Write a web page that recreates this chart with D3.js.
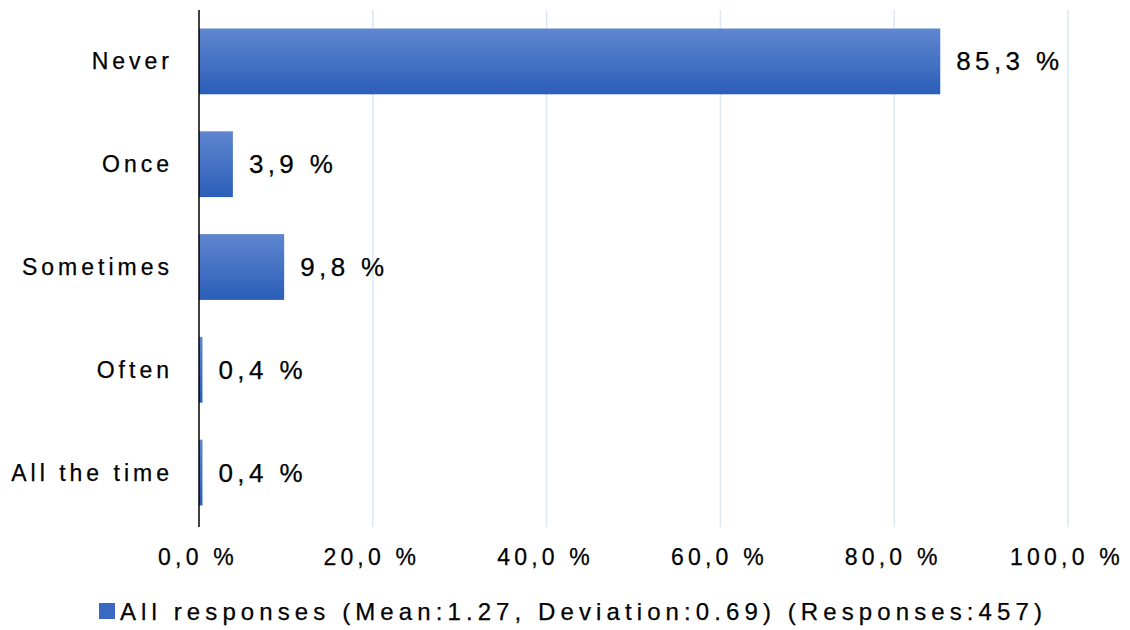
<!DOCTYPE html>
<html><head><meta charset="utf-8">
<script src="https://cdn.jsdelivr.net/npm/d3@7/dist/d3.min.js"></script>
<style>
html,body{margin:0;padding:0;background:#fff;}
text{font-family:"Liberation Sans",Arial,sans-serif;fill:#000;stroke:#000;stroke-width:0.25px;}
</style></head>
<body>
<svg id="chart" width="1130" height="630"></svg>
<script>
const categories = ["Never","Once","Sometimes","Often","All the time"];
const values = [85.3, 3.9, 9.8, 0.4, 0.4];
const xTicks = [0,20,40,60,80,100];
const legendLabel = "All responses (Mean:1.27, Deviation:0.69) (Responses:457)";

const svg = d3.select("#chart");
const plotLeft = 199, plotRight = 1068, plotTop = 10, plotBottom = 524;
const x = d3.scaleLinear().domain([0,100]).range([plotLeft,plotRight]);
const y = d3.scaleBand().domain(categories).range([plotTop,plotBottom]).paddingInner(0.36).paddingOuter(0.18);
const fmt = v => d3.format(".1f")(v).replace(".", ",") + " %";

const defs = svg.append("defs");
const g = defs.append("linearGradient").attr("id","barGrad").attr("x1",0).attr("y1",0).attr("x2",0).attr("y2",1);
g.append("stop").attr("offset","0%").attr("stop-color","#5f86d0");
g.append("stop").attr("offset","100%").attr("stop-color","#2b5eb8");

// gridlines
svg.append("g").selectAll("line").data(xTicks.filter(d=>d>0)).join("line")
  .attr("x1",d=>x(d)).attr("x2",d=>x(d)).attr("y1",plotTop).attr("y2",527)
  .attr("stroke","#dde6f3").attr("stroke-width",1.5);

// bars
svg.append("g").selectAll("rect").data(categories).join("rect")
  .attr("x",x(0)).attr("y",d=>y(d))
  .attr("width",(d,i)=>x(values[i])-x(0)).attr("height",y.bandwidth())
  .attr("fill","url(#barGrad)");

// axis line
svg.append("line").attr("x1",plotLeft).attr("x2",plotLeft).attr("y1",plotTop).attr("y2",527)
  .attr("stroke","#000").attr("stroke-width",1.5);

// category labels
svg.append("g").selectAll("text").data(categories).join("text")
  .attr("x",173).attr("y",d=>y(d)+y.bandwidth()/2+8)
  .attr("text-anchor","end").attr("font-size",23).attr("letter-spacing","4px")
  .text(d=>d);

// value labels
svg.append("g").selectAll("text").data(categories).join("text")
  .attr("x",(d,i)=>x(values[i])+16).attr("y",d=>y(d)+y.bandwidth()/2+9)
  .attr("font-size",26).attr("letter-spacing","4.4px")
  .text((d,i)=>fmt(values[i]));

// tick labels
svg.append("g").selectAll("text").data(xTicks).join("text")
  .attr("x",d=>x(d)-1).attr("y",565)
  .attr("text-anchor","middle").attr("font-size",23).attr("letter-spacing","4.2px")
  .text(d=>fmt(d));

// legend
svg.append("rect").attr("x",99).attr("y",603).attr("width",16).attr("height",16).attr("fill","#3b69c2");
svg.append("text").attr("x",120).attr("y",620).attr("font-size",24).attr("letter-spacing","5.1px")
  .text(legendLabel);
</script>
</body></html>
